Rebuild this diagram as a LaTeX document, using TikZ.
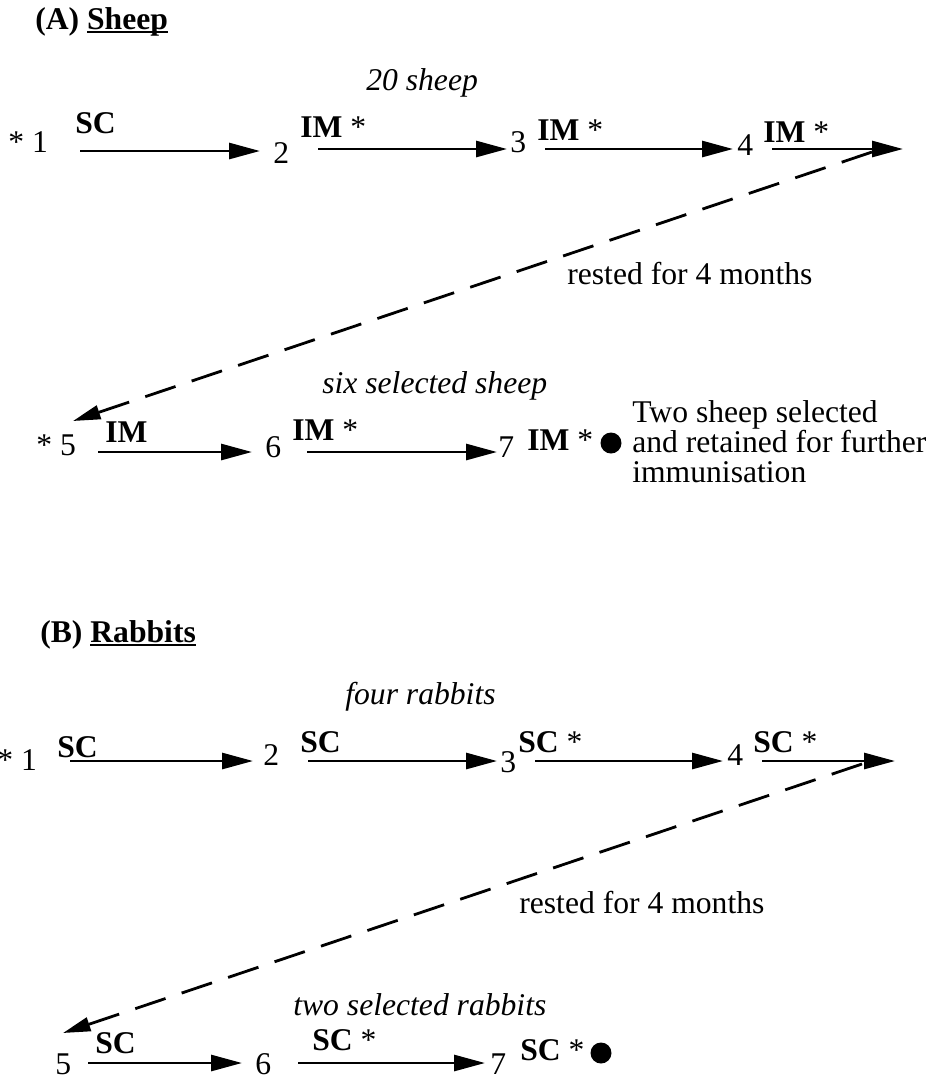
\documentclass[tikz,border=0pt]{standalone}
\usepackage{fontspec}
\setmainfont{Liberation Serif}
\usetikzlibrary{arrows.meta}
\newcommand\ulword[1]{\setbox0\hbox{#1}\rlap{\rule[-2.4pt]{\wd0}{1.2pt}}\box0}

\begin{document}
\begin{tikzpicture}[x=0.02cm,y=-0.02cm,
  txt/.style={anchor=base west,inner sep=0pt,font=\fontsize{18}{17}\selectfont},
  inj/.style={txt,font=\fontsize{18}{17}\selectfont\bfseries},
  grp/.style={txt,font=\fontsize{18}{17}\selectfont\itshape},
  arr/.style={-{Triangle[length=.62cm,width=.32cm]},line width=1.6pt},
  rest/.style={-{Triangle[length=.55cm,width=.28cm]},line width=1.6pt,dash pattern=on .64cm off .34cm},
  bleed/.style={circle,fill,inner sep=0pt,minimum size=.42cm}]
\useasboundingbox (0,0) rectangle (936,1080);

% (A) sheep
\node[inj] (titleA) at (35,29) {(A) \ulword{Sheep}};
\node[grp] (grpA) at (366,90) {20 sheep};
\node[txt] (a1) at (8,152) {* 1};
\node[inj] (ra1) at (75,133) {SC};
\node[txt] (a2) at (273,163) {2};
\node[inj] (ra2) at (300,137) {IM \mdseries*};
\node[txt] (a3) at (510,152) {3};
\node[inj] (ra3) at (537,140) {IM \mdseries*};
\node[txt] (a4) at (737,155) {4};
\node[inj] (ra4) at (763,142) {IM \mdseries*};
\coordinate (a12s) at (80,151);  \coordinate (a12e) at (260,151);
\coordinate (a23s) at (318,149); \coordinate (a23e) at (507,149);
\coordinate (a34s) at (545,149); \coordinate (a34e) at (733,149);
\coordinate (a4s) at (772,149);  \coordinate (a4e) at (903,149);
\draw[arr] (a12s)--(a12e);\draw[arr] (a23s)--(a23e);
\draw[arr] (a34s)--(a34e);\draw[arr] (a4s)--(a4e);

\node[txt] (restA) at (567,284) {rested for 4 months};
\coordinate (restAs) at (872,152); \coordinate (restAe) at (73,421);
\draw[rest] (restAs)--(restAe);

\node[grp] (selA) at (322,393) {six selected sheep};
\node[txt] (a5) at (36,455) {* 5};
\node[inj] (ra5) at (105,442) {IM};
\node[txt] (a6) at (265,457) {6};
\node[inj] (ra6) at (292,440) {IM \mdseries*};
\node[txt] (a7) at (498,457) {7};
\node[inj] (ra7) at (527,450) {IM \mdseries*};
\node[bleed] (dotA) at (611,443) {};
\node[txt,align=left] (noteA) at (632,482) {Two sheep selected\\and retained for further\\immunisation};
\coordinate (a56s) at (98,452);  \coordinate (a56e) at (252,452);
\coordinate (a67s) at (307,452); \coordinate (a67e) at (497,452);
\draw[arr] (a56s)--(a56e);\draw[arr] (a67s)--(a67e);

% (B) rabbits
\node[inj] (titleB) at (40,642) {(B) \ulword{Rabbits}};
\node[grp] (grpB) at (345,704) {four rabbits};
\node[txt] (b1) at (-3,770) {* 1};
\node[inj] (rb1) at (57,757) {SC};
\node[txt] (b2) at (263,765) {2};
\node[inj] (rb2) at (300,752) {SC};
\node[txt] (b3) at (500,772) {3};
\node[inj] (rb3) at (518,752) {SC \mdseries*};
\node[txt] (b4) at (727,765) {4};
\node[inj] (rb4) at (753,752) {SC \mdseries*};
\coordinate (b12s) at (70,761);  \coordinate (b12e) at (253,761);
\coordinate (b23s) at (308,761); \coordinate (b23e) at (497,761);
\coordinate (b34s) at (535,761); \coordinate (b34e) at (723,761);
\coordinate (b4s) at (762,761);  \coordinate (b4e) at (895,761);
\draw[arr] (b12s)--(b12e);\draw[arr] (b23s)--(b23e);
\draw[arr] (b34s)--(b34e);\draw[arr] (b4s)--(b4e);

\node[txt] (restB) at (519,913) {rested for 4 months};
\coordinate (restBs) at (862,764); \coordinate (restBe) at (63,1033);
\draw[rest] (restBs)--(restBe);

\node[grp] (selB) at (293,1015) {two selected rabbits};
\node[txt] (b5) at (55,1074) {5};
\node[inj] (rb5) at (95,1053) {SC};
\node[txt] (b6) at (255,1074) {6};
\node[inj] (rb6) at (312,1050) {SC \mdseries*};
\node[txt] (b7) at (490,1074) {7};
\node[inj] (rb7) at (520,1060) {SC \mdseries*};
\node[bleed] (dotB) at (601,1053) {};
\coordinate (b56s) at (88,1063);  \coordinate (b56e) at (242,1063);
\coordinate (b67s) at (298,1063); \coordinate (b67e) at (485,1063);
\draw[arr] (b56s)--(b56e);\draw[arr] (b67s)--(b67e);
\end{tikzpicture}
\end{document}
